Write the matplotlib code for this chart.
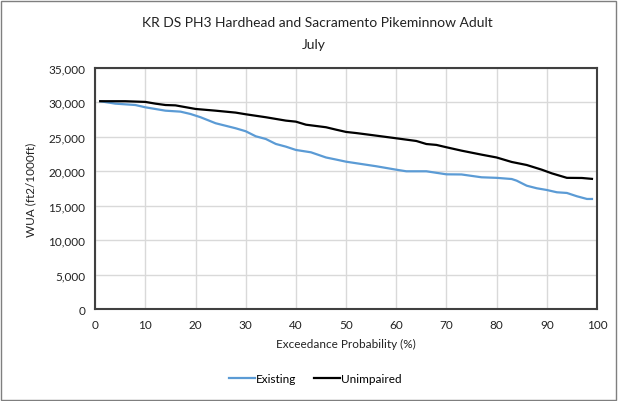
import matplotlib
matplotlib.use("Agg")
import matplotlib.pyplot as plt
from matplotlib.ticker import FuncFormatter
from matplotlib.patches import Rectangle

plt.rcParams['font.family'] = ['Lato', 'DejaVu Sans']

# data
exc_existing = [1, 4, 8, 10, 14, 17, 19, 21, 24, 28, 30, 32, 34, 36, 38, 40,
                43, 46, 48, 50, 53, 56, 60, 62, 66, 70, 73, 77, 80, 83, 84,
                86, 88, 90, 92, 94, 96, 98, 99]
existing = [30150, 29800, 29600, 29270, 28780, 28640, 28300, 27830, 26960,
            26230, 25800, 25070, 24680, 23960, 23570, 23090, 22750, 22000,
            21700, 21390, 21060, 20730, 20230, 20000, 20000, 19560, 19540,
            19130, 19050, 18880, 18640, 17910, 17540, 17290, 16960, 16860,
            16380, 15990, 15990]

exc_unimpaired = [1, 6, 10, 12, 14, 16, 20, 24, 28, 30, 34, 38, 40, 42, 46,
                  48, 50, 52, 55, 60, 64, 66, 68, 70, 73, 77, 80, 83, 86, 89,
                  91, 94, 97, 99]
unimpaired = [30150, 30150, 30050, 29800, 29600, 29550, 29030, 28780, 28500,
              28260, 27830, 27340, 27190, 26750, 26380, 26030, 25700, 25540,
              25260, 24780, 24390, 23950, 23820, 23480, 22990, 22410, 22000,
              21350, 20910, 20230, 19700, 19050, 19030, 18900]

x_ticks = list(range(0, 101, 10))
y_ticks = list(range(0, 35001, 5000))

fig = plt.figure(figsize=(6.18, 4.02), dpi=100)
ax = fig.add_axes([0.154, 0.228, 0.812, 0.601])

ax.plot(exc_existing, existing, color='#5b9bd5', lw=1.6, label='Existing')
ax.plot(exc_unimpaired, unimpaired, color='black', lw=1.6, label='Unimpaired')

ax.set_xlim(0, 100)
ax.set_ylim(0, 35000)
ax.set_xticks(x_ticks)
ax.set_yticks(y_ticks)
ax.yaxis.set_major_formatter(FuncFormatter(lambda v, p: f'{int(v):,}'))
ax.tick_params(length=0, labelsize=8.5, pad=7, colors='#222222')
ax.grid(True, color='#d9d9d9', lw=1)
ax.set_axisbelow(True)
for s in ax.spines.values():
    s.set_color('#404040')
    s.set_linewidth(1.5)

ax.set_xlabel('Exceedance Probability (%)', fontsize=8.5, color='#222222',
              labelpad=6)
ax.set_ylabel('WUA (ft2/1000ft)', fontsize=8.5, color='#222222', labelpad=9)

fig.text(0.514, 0.942, 'KR DS PH3 Hardhead and Sacramento Pikeminnow Adult',
         ha='center', va='center', fontsize=10, color='#222222')
fig.text(0.507, 0.888, 'July', ha='center', va='center', fontsize=10,
         color='#222222')

fig.legend(loc='center', bbox_to_anchor=(0.51, 0.055), ncol=2, frameon=False,
           fontsize=8.5, handlelength=2.2, handletextpad=0.1,
           columnspacing=1.5)

# chart border
fig.patches.append(Rectangle((0.002, 0.003), 0.995, 0.993,
                             transform=fig.transFigure, fill=False,
                             edgecolor='#7f7f7f', lw=1))

fig.savefig('out.png', dpi=100)
